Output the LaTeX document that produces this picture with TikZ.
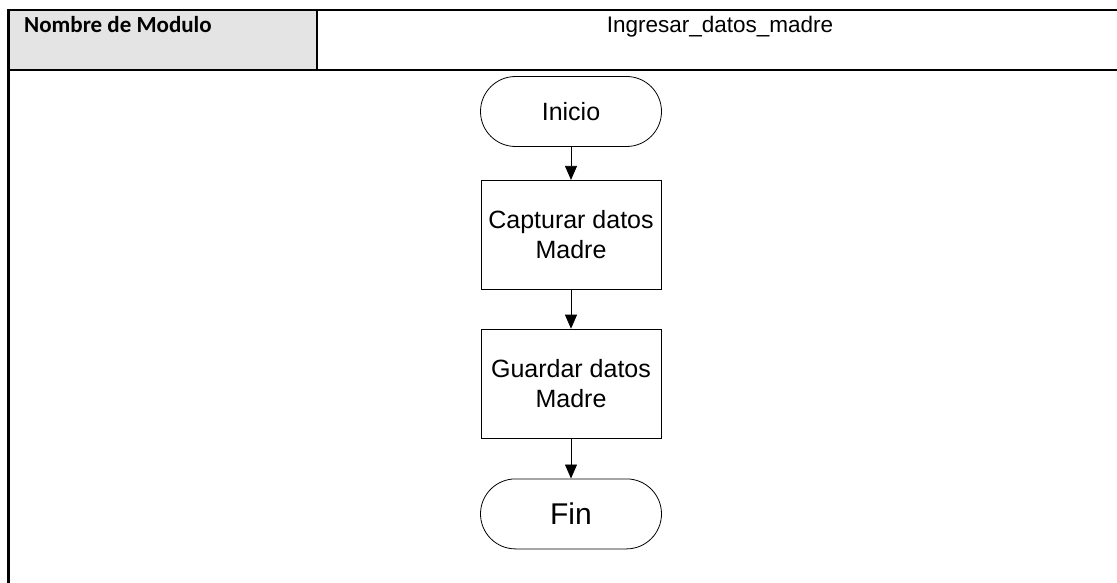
\documentclass[tikz,border=0pt]{standalone}
\usepackage{fontspec}
\setmainfont{Liberation Sans}
\newfontfamily\calibri{Carlito}
\usepackage{xcolor}
\usepackage{tikz}
\usetikzlibrary{arrows.meta,positioning}
\definecolor{headgray}{HTML}{E4E4E4}

\begin{document}
\begin{tikzpicture}[x=1pt,y=-1pt,
  tabline/.style={line width=2.2pt},
  terminal/.style={draw,line width=0.8pt,rectangle,rounded corners=35pt,minimum width=181pt,minimum height=70pt,inner sep=0pt},
  process/.style={draw,line width=0.8pt,rectangle,minimum width=180pt,minimum height=109pt,inner sep=0pt,align=center,font=\fontsize{25}{29.5}\selectfont},
  flow/.style={-{Triangle[width=12pt,length=14pt]},line width=0.8pt}]
\useasboundingbox (0,0) rectangle (1117,583);
% table header
\fill[headgray] (9,11) rectangle (317,69);
\draw[tabline] (8.5,9.9)--(1117,9.9);
\draw[tabline] (8.5,70)--(1117,70);
\draw[tabline] (8.5,8.8)--(8.5,583);
\draw[tabline] (317,9.9)--(317,70);
\node[anchor=base west,inner sep=0pt] (nombre) at (24,32.5) {\calibri\bfseries\fontsize{23}{27}\selectfont Nombre de Modulo};
\node[anchor=base,inner sep=0pt] (modulo) at (720,32.5) {\fontsize{22.5}{26}\selectfont Ingresar\_datos\_madre};
% flowchart
\node[terminal,font=\fontsize{25}{29}\selectfont] (inicio) at (571,111.5) {Inicio};
\node[process,below=33pt of inicio] (capturar) {Capturar datos\\Madre};
\node[process,below=39pt of capturar] (guardar) {Guardar datos\\Madre};
\node[terminal,below=40pt of guardar,font=\fontsize{30}{34}\selectfont] (fin) {Fin};
\draw[flow] (inicio)--(capturar);
\draw[flow] (capturar)--(guardar);
\draw[flow] (guardar)--(fin);
\end{tikzpicture}
\end{document}
